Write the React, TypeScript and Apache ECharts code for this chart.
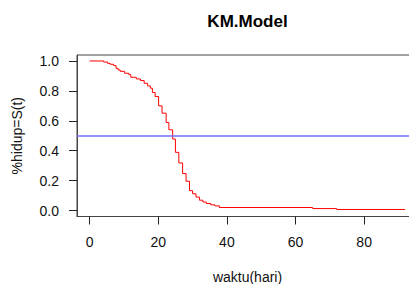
import React, { useEffect, useRef } from "react";
import * as echarts from "echarts";

const times = [0, 4.1, 5.25, 6.0, 7.0, 7.7, 8.3, 8.9, 10.2, 11.4, 12.0, 13.6, 14.8, 15.9, 16.9, 17.7, 18.3, 19.1, 20.1, 21.1, 22.3, 23.1, 24.2, 25.0, 26.0, 27.1, 28.1, 29.1, 30.0, 31.0, 32.0, 33.0, 34.0, 35.3, 36.5, 37.8, 65.0, 72.0, 91.9];
const survival = [1.0, 0.993, 0.984, 0.978, 0.969, 0.951, 0.94, 0.931, 0.918, 0.909, 0.891, 0.88, 0.869, 0.851, 0.833, 0.818, 0.789, 0.762, 0.7, 0.651, 0.589, 0.54, 0.478, 0.389, 0.318, 0.247, 0.196, 0.133, 0.112, 0.09, 0.069, 0.057, 0.047, 0.038, 0.031, 0.02, 0.013, 0.007, 0.007];
const xTicks = [0, 20, 40, 60, 80];
const yTicks = [0, 0.2, 0.4, 0.6, 0.8, 1.0];
const medianLine = 0.5;
const title = "KM.Model";
const xTitle = "waktu(hari)";
const yTitle = "%hidup=S(t)";

const FONT = "'Liberation Sans', Arial, sans-serif";

export default function App() {
  const ref = useRef<HTMLDivElement>(null);
  useEffect(() => {
    if (!ref.current) return;
    const chart = echarts.init(ref.current, undefined, { renderer: "svg" });
    const gridLeft = 77;
    const gridWidth = 341;
    const gridTop = 55;
    const gridHeight = 161.5;
    chart.setOption({
      animation: false,
      backgroundColor: "#ffffff",
      textStyle: { fontFamily: FONT },
      grid: {
        left: gridLeft,
        top: gridTop,
        width: gridWidth,
        height: gridHeight,
        show: true,
        borderColor: "#444",
        borderWidth: 1,
        containLabel: false,
      },
      xAxis: {
        type: "value",
        min: -3.68,
        max: 95.7,
        splitLine: { show: false },
        axisLine: { show: true, onZero: false, lineStyle: { color: "#444" } },
        axisTick: { show: true, inside: false, length: 8, customValues: xTicks, lineStyle: { color: "#222" } },
        axisLabel: {
          customValues: xTicks,
          margin: 18,
          color: "#111",
          fontSize: 14,
          fontFamily: FONT,
        },
      },
      yAxis: {
        type: "value",
        min: -0.04,
        max: 1.04,
        splitLine: { show: false },
        axisLine: { show: true, onZero: false, lineStyle: { color: "#444" } },
        axisTick: { show: true, inside: false, length: 8, customValues: yTicks, lineStyle: { color: "#222" } },
        axisLabel: {
          customValues: yTicks,
          margin: 18,
          color: "#111",
          fontSize: 14,
          fontFamily: FONT,
          formatter: (v: number) => v.toFixed(1),
        },
      },
      series: [
        {
          type: "line",
          step: "end",
          data: times.map((t, i) => [t, survival[i]]),
          showSymbol: false,
          symbol: "none",
          lineStyle: { color: "#ff0000", width: 1 },
          markLine: {
            silent: true,
            symbol: "none",
            label: { show: false },
            lineStyle: { color: "#6f6fff", width: 1.5, type: "solid" },
            data: [{ yAxis: medianLine }],
          },
        },
      ],
      graphic: [
        {
          type: "text",
          style: {
            text: title,
            x: gridLeft + gridWidth / 2,
            y: 21,
            align: "center",
            verticalAlign: "middle",
            font: `bold 17px ${FONT}`,
            fill: "#000",
          },
        },
        {
          type: "text",
          style: {
            text: xTitle,
            x: gridLeft + gridWidth / 2,
            y: 277,
            align: "center",
            verticalAlign: "middle",
            font: `14px ${FONT}`,
            fill: "#111",
          },
        },
        {
          type: "text",
          x: 17,
          y: gridTop + gridHeight / 2,
          rotation: Math.PI / 2,
          style: {
            text: yTitle,
            x: 0,
            y: 0,
            align: "center",
            verticalAlign: "middle",
            font: `14px ${FONT}`,
            fill: "#111",
          },
        },
      ],
    });
    return () => chart.dispose();
  }, []);
  return (
    <div style={{ position: "absolute", left: 0, top: 0, width: 409, height: 284, overflow: "hidden" }}>
      <div ref={ref} style={{ width: 422, height: 284 }} />
    </div>
  );
}
